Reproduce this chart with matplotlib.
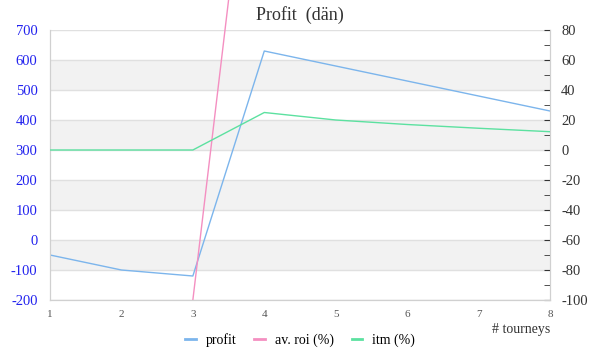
import numpy as np
import matplotlib
matplotlib.use("Agg")
import matplotlib.pyplot as plt
from matplotlib.patches import Rectangle
from matplotlib.ticker import MultipleLocator

# -------------------------------
# data
# -------------------------------
tourneys = [1, 2, 3, 4, 5, 6, 7, 8]
profit = [-50, -100, -120, 630, 580, 530, 480, 430]
av_roi = [np.nan, np.nan, -100, 300, 250, 210, 180, 160]
itm = [0, 0, 0, 25, 20, 17, 14.5, 12.2]

left_ticks = [-200, -100, 0, 100, 200, 300, 400, 500, 600, 700]
right_ticks = [-100, -80, -60, -40, -20, 0, 20, 40, 60, 80]

c_profit = "#7cb5ec"
c_roi = "#f48fc1"
c_itm = "#5ce1a0"
serif = ["Liberation Serif", "DejaVu Serif"]

fig = plt.figure(figsize=(6, 3.6), dpi=100)
ax = fig.add_axes([50 / 600, 60 / 360, 500 / 600, 270 / 360])
ax2 = ax.twinx()

ax.set_xlim(1, 8)
ax.set_ylim(-200, 700)
ax2.set_ylim(-100, 80)

# alternating bands + grid
for lo in [500, 300, 100, -100]:
    ax.axhspan(lo, lo + 100, color="#f2f2f2", zorder=0, lw=0)
for t in left_ticks:
    ax.axhline(t, color="#e0e0e0", lw=1, zorder=1)

ax.set_yticks(left_ticks)
ax.set_yticklabels([str(t) for t in left_ticks], color="#2222ee",
                   fontsize=10.5, family=serif)
ax.tick_params(axis="y", length=0, pad=9)
ax.set_xticks(tourneys)
ax.set_xticklabels([str(t) for t in tourneys], fontsize=8, color="#555555",
                   family=serif)
ax.tick_params(axis="x", length=0, pad=7)

ax2.set_yticks(right_ticks)
ax2.set_yticklabels([str(t) for t in right_ticks], color="#333333",
                    fontsize=10.5, family=serif)
ax2.yaxis.set_minor_locator(MultipleLocator(10))
ax2.tick_params(axis="y", which="both", direction="in", length=4,
                color="#333333", pad=8)

for a in (ax, ax2):
    for s in a.spines.values():
        s.set_color("#d0d0d0")
    a.spines["top"].set_visible(False)

# lines
ax.plot(tourneys, profit, color=c_profit, lw=1, zorder=3)
roi_line, = ax2.plot(tourneys, av_roi, color=c_roi, lw=1, zorder=3)
ax2.plot(tourneys, itm, color=c_itm, lw=1, zorder=3)

# roi line overflows the top of the plot but not the bottom
clip = Rectangle((50 / 600, 60 / 360), 500 / 600, 300 / 360,
                 transform=fig.transFigure, facecolor="none")
roi_line.set_clip_path(clip)

fig.text(0.5, 1 - 15 / 360, "Profit  (dän)", ha="center", va="center",
         fontsize=13, color="#333333", family=serif)
fig.text(550 / 600, 1 - 329 / 360, "# tourneys", ha="right", va="center",
         fontsize=10, color="#333333", family=serif)

# legend
handles = [plt.Line2D([], [], color=c, lw=2) for c in (c_profit, c_roi, c_itm)]
fig.legend(handles, ["profit", "av. roi (%)", "itm (%)"], loc="center",
           bbox_to_anchor=(0.5, 1 - 340 / 360), ncol=3, frameon=False,
           prop={"family": serif, "size": 10}, handlelength=0.75,
           columnspacing=1.3, handletextpad=0.7)

plt.savefig("out.png")
plt.close()
